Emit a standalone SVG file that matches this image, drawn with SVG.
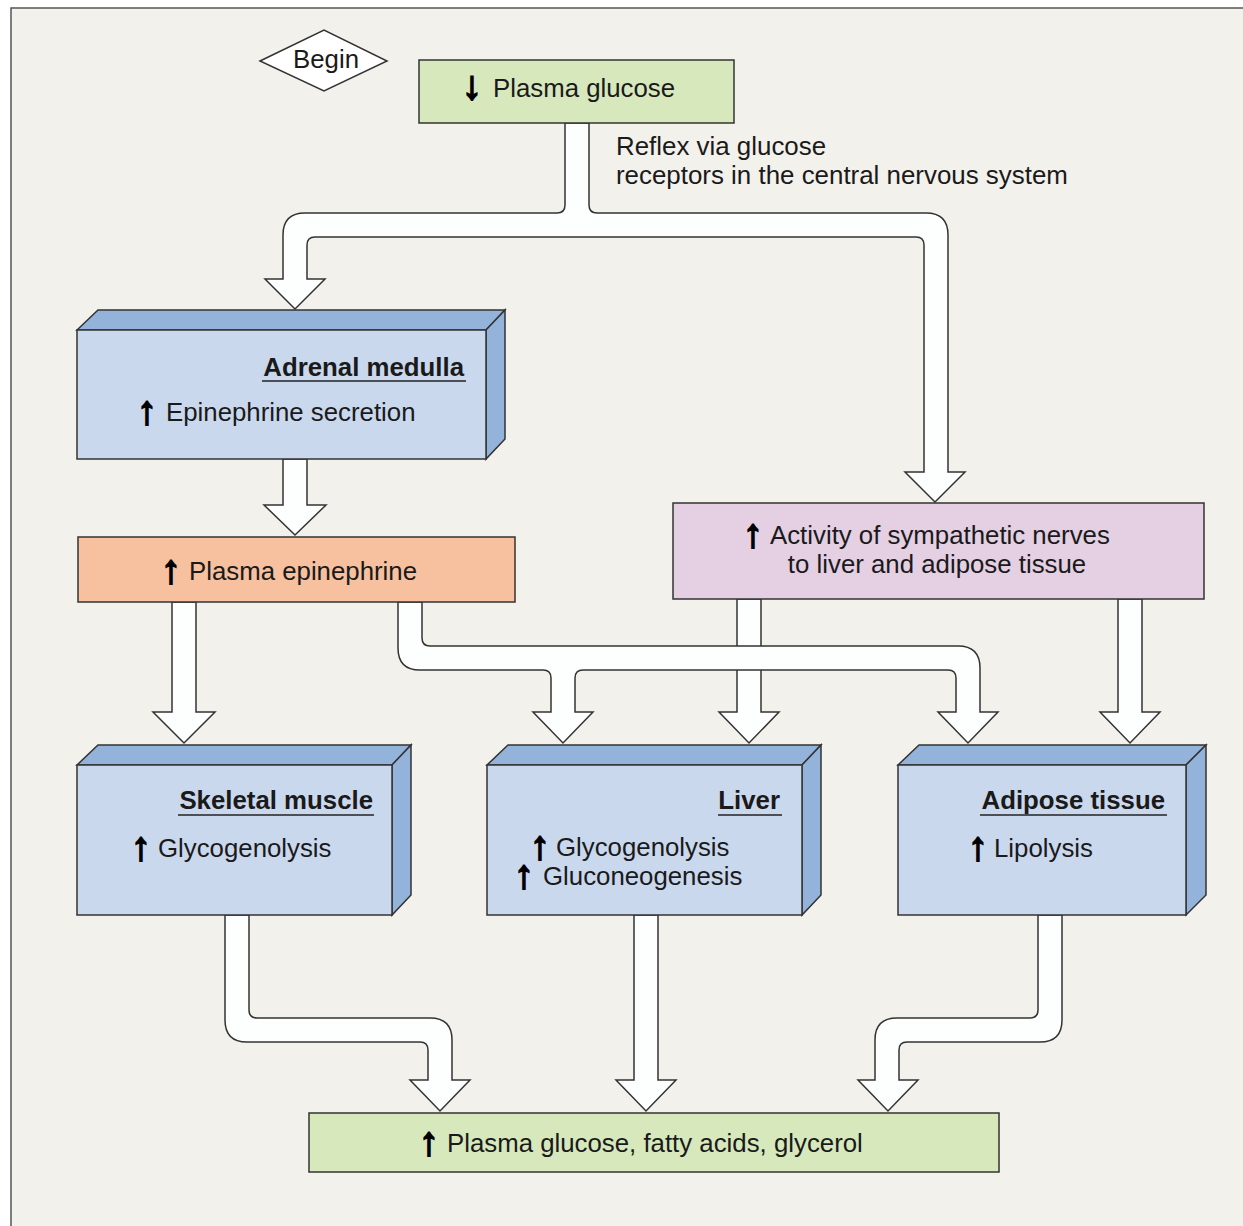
<svg xmlns="http://www.w3.org/2000/svg" width="1243" height="1226" viewBox="0 0 1243 1226">
<style>
.t{font-family:"Liberation Sans",Arial,sans-serif;font-size:25.8px;fill:#1a1a1a}
.r{font-size:25.9px}
.ar{font-family:"Liberation Sans",Arial,sans-serif;font-weight:bold;font-size:40px;fill:#000;stroke:#000;stroke-width:1.8}
.c{fill:#fdfefe;stroke:#333;stroke-width:1.5;stroke-linejoin:miter}
.bx{stroke:#333;stroke-width:1.5;stroke-linejoin:miter}
.front{fill:#cad8ee}
.side{fill:#94b3db}
.ul{stroke:#222;stroke-width:1.5}
</style>
<rect x="0" y="0" width="1243" height="1226" fill="#ffffff"/>
<rect x="11" y="8" width="1250" height="1240" fill="#f3f1ec" stroke="#555" stroke-width="1.5"/>

<g id="connectors">
<path class="c" d="M565,123 V205 Q565,213 557,213 H305 Q283,213 283,235 V279 H265 L295,309 L325,279 H307 V245 Q307,237 315,237 H916 Q924,237 924,245 V472 H905 L935,502 L965,472 H948 V235 Q948,213 926,213 H597 Q589,213 589,205 V123 Z"/>
<path class="c" d="M283,459 V505 H264 L295,535 L326,505 H307 V459 Z"/>
<path class="c" d="M172,602 V712 H153 L184,743 L215,712 H196 V602 Z"/>
<path class="c" d="M737,599 V712 H719 L749,743 L779,712 H761 V599 Z"/>
<path class="c" d="M398,602 V648 Q398,670 420,670 H543 Q551,670 551,678 V712 H533 L563,743 L593,712 H575 V678 Q575,670 583,670 H948 Q956,670 956,678 V712 H938 L968,743 L998,712 H980 V668 Q980,646 958,646 H430 Q422,646 422,638 V602 Z"/>
<path class="c" d="M1118,599 V712 H1100 L1130,743 L1160,712 H1142 V599 Z"/>
<path class="c" d="M225,915 V1020 Q225,1042 247,1042 H420 Q428,1042 428,1050 V1080 H410 L440,1111 L470,1080 H452 V1040 Q452,1018 430,1018 H257 Q249,1018 249,1010 V915 Z"/>
<path class="c" d="M634,915 V1080 H616 L646,1111 L676,1080 H658 V915 Z"/>
<path class="c" d="M1062,915 V1020 Q1062,1042 1040,1042 H907 Q899,1042 899,1050 V1080 H918 L888,1111 L858,1080 H875 V1040 Q875,1018 897,1018 H1030 Q1038,1018 1038,1010 V915 Z"/>
</g>

<g id="begin">
<polygon points="260,61 324,30 387,61 324,91" fill="#ffffff" stroke="#333" stroke-width="1.5"/>
<text class="t" x="326" y="68" text-anchor="middle">Begin</text>
</g>

<g id="plasma-glucose">
<rect x="419" y="60" width="315" height="63" fill="#d7e8bc" stroke="#333" stroke-width="1.5"/>
<text class="t" y="97"><tspan class="ar" x="462" y="99">↓</tspan><tspan x="493" y="97">Plasma glucose</tspan></text>
</g>

<g id="reflex-label">
<text class="t r" x="616" y="155">Reflex via glucose</text>
<text class="t r" x="616" y="184">receptors in the central nervous system</text>
</g>

<g id="adrenal-medulla">
<polygon class="bx side" points="77,330 98,310 505,310 486,330"/>
<polygon class="bx side" points="486,330 505,310 505,439 486,459"/>
<rect class="bx front" x="77" y="330" width="409" height="129"/>
<text class="t" x="464" y="376" text-anchor="end" font-weight="bold">Adrenal medulla</text>
<line class="ul" x1="262" y1="381" x2="466" y2="381"/>
<text class="t" y="421"><tspan class="ar" x="137" y="424">↑</tspan><tspan x="166" y="421">Epinephrine secretion</tspan></text>
</g>

<g id="plasma-epinephrine">
<rect x="78" y="537" width="437" height="65" fill="#f7c09e" stroke="#333" stroke-width="1.5"/>
<text class="t" y="580"><tspan class="ar" x="161" y="583">↑</tspan><tspan x="189" y="580">Plasma epinephrine</tspan></text>
</g>

<g id="sympathetic">
<rect x="673" y="503" width="531" height="96" fill="#e4cfe3" stroke="#333" stroke-width="1.5"/>
<text class="t" y="544"><tspan class="ar" x="743" y="547">↑</tspan><tspan x="770" y="544">Activity of sympathetic nerves</tspan></text>
<text class="t" x="937" y="573" text-anchor="middle">to liver and adipose tissue</text>
</g>

<g id="skeletal-muscle">
<polygon class="bx side" points="77,765 98,745 411,745 392,765"/>
<polygon class="bx side" points="392,765 411,745 411,895 392,915"/>
<rect class="bx front" x="77" y="765" width="315" height="150"/>
<text class="t" x="373" y="809" text-anchor="end" font-weight="bold">Skeletal muscle</text>
<line class="ul" x1="178" y1="815" x2="374" y2="815"/>
<text class="t" y="857"><tspan class="ar" x="131" y="860">↑</tspan><tspan x="158" y="857">Glycogenolysis</tspan></text>
</g>

<g id="liver">
<polygon class="bx side" points="487,765 508,745 821,745 802,765"/>
<polygon class="bx side" points="802,765 821,745 821,895 802,915"/>
<rect class="bx front" x="487" y="765" width="315" height="150"/>
<text class="t" x="780" y="809" text-anchor="end" font-weight="bold">Liver</text>
<line class="ul" x1="718" y1="815" x2="782" y2="815"/>
<text class="t" y="856"><tspan class="ar" x="530" y="859">↑</tspan><tspan x="556" y="856">Glycogenolysis</tspan></text>
<text class="t" y="885"><tspan class="ar" x="514" y="888">↑</tspan><tspan x="543" y="885">Gluconeogenesis</tspan></text>
</g>

<g id="adipose-tissue">
<polygon class="bx side" points="898,765 919,745 1206,745 1186,765"/>
<polygon class="bx side" points="1186,765 1206,745 1206,895 1186,915"/>
<rect class="bx front" x="898" y="765" width="288" height="150"/>
<text class="t" x="1165" y="809" text-anchor="end" font-weight="bold">Adipose tissue</text>
<line class="ul" x1="980" y1="815" x2="1167" y2="815"/>
<text class="t" y="857"><tspan class="ar" x="968" y="860">↑</tspan><tspan x="994" y="857">Lipolysis</tspan></text>
</g>

<g id="plasma-output">
<rect x="309" y="1113" width="690" height="59" fill="#d7e8bc" stroke="#333" stroke-width="1.5"/>
<text class="t" y="1152"><tspan class="ar" x="419" y="1155">↑</tspan><tspan x="447" y="1152">Plasma glucose, fatty acids, glycerol</tspan></text>
</g>
</svg>
